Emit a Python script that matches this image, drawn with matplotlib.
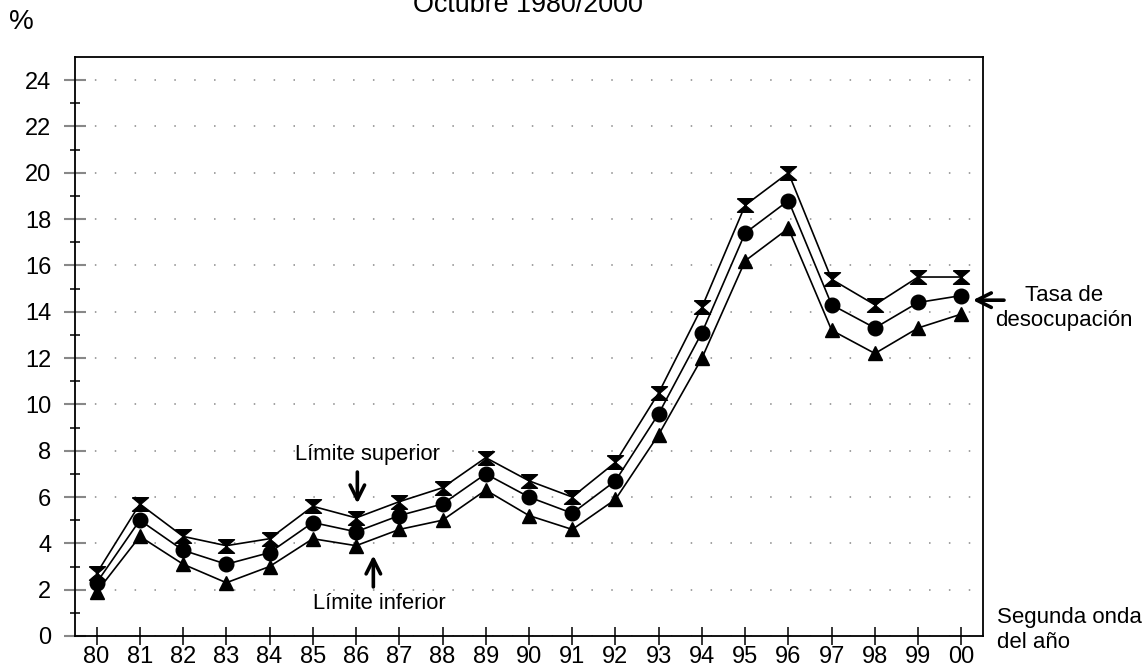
import matplotlib
matplotlib.use("Agg")
import matplotlib.pyplot as plt

plt.rcParams["font.family"] = ["Liberation Sans", "DejaVu Sans"]

years = ["80", "81", "82", "83", "84", "85", "86", "87", "88", "89", "90",
         "91", "92", "93", "94", "95", "96", "97", "98", "99", "00"]
tasa = [2.3, 5.0, 3.7, 3.1, 3.6, 4.9, 4.5, 5.2, 5.7, 7.0, 6.0,
        5.3, 6.7, 9.6, 13.1, 17.4, 18.8, 14.3, 13.3, 14.4, 14.7]
superior = [2.7, 5.7, 4.3, 3.9, 4.2, 5.6, 5.1, 5.8, 6.4, 7.7, 6.7,
            6.0, 7.5, 10.5, 14.2, 18.6, 20.0, 15.4, 14.3, 15.5, 15.5]
inferior = [1.9, 4.3, 3.1, 2.3, 3.0, 4.2, 3.9, 4.6, 5.0, 6.3, 5.2,
            4.6, 5.9, 8.7, 12.0, 16.2, 17.6, 13.2, 12.2, 13.3, 13.9]

W, H = 1146, 670
fig = plt.figure(figsize=(W / 100, H / 100), dpi=100)
ax = fig.add_axes([75 / W, 1 - 636 / H, (983 - 75) / W, (636 - 57) / H])

x = list(range(len(years)))
hourglass = [(-1, 0.85), (1, 0.85), (-1, -0.85), (1, -0.85), (-1, 0.85)]

ax.plot(x, superior, color="black", lw=1.2, marker=hourglass, ms=11.5, zorder=3)
ax.plot(x, tasa, color="black", lw=1.2, marker="o", ms=10.5, zorder=3)
ax.plot(x, inferior, color="black", lw=1.2, marker="^", ms=10.5, zorder=3)

ax.set_xlim(-0.5, 20.5)
ax.set_ylim(0, 25)
ax.set_xticks(x)
ax.set_xticklabels(years)
ax.set_yticks(range(0, 25, 2))
ax.set_yticks(range(1, 25, 2), minor=True)

ax.tick_params(axis="x", direction="inout", length=13, width=1.1,
               labelsize=17, pad=1)
ax.tick_params(axis="y", which="major", direction="inout", length=16,
               width=1.5, color="#888888", labelcolor="black", labelsize=17, pad=9)
ax.tick_params(axis="y", which="minor", direction="inout", length=7, width=1.1)

for s in ax.spines.values():
    s.set_linewidth(1.3)

ax.grid(axis="y", which="major", color="#888888", lw=1.1,
        linestyle=(0, (1, 12)))
ax.set_axisbelow(True)

# annotations
arrow = dict(arrowstyle="->", lw=2.6, color="black", mutation_scale=26)
ax.annotate("", xy=(6.03, 5.6), xytext=(6.03, 7.2), arrowprops=arrow)
ax.text(6.26, 7.85, "Límite superior", ha="center", va="center", fontsize=15.8)
ax.annotate("", xy=(6.4, 3.6), xytext=(6.4, 2.0), arrowprops=arrow)
ax.text(6.53, 1.4, "Límite inferior", ha="center", va="center", fontsize=15.8)
ax.annotate("", xy=(20.2, 14.5), xytext=(21.05, 14.5), arrowprops=arrow,
            annotation_clip=False)

fig.text(1064 / W, 1 - 308 / H, "Tasa de\ndesocupación", ha="center",
         va="center", fontsize=16, linespacing=1.3)
fig.text(997 / W, 1 - 630 / H, "Segunda onda\ndel año", ha="left",
         va="center", fontsize=16, linespacing=1.3)
fig.text(9 / W, 1 - 22 / H, "%", ha="left", va="center", fontsize=20)
fig.text(528 / W, 1 - 12 / H, "Octubre 1980/2000", ha="center",
         va="baseline", fontsize=19.4)

fig.savefig("out.png", dpi=100)
